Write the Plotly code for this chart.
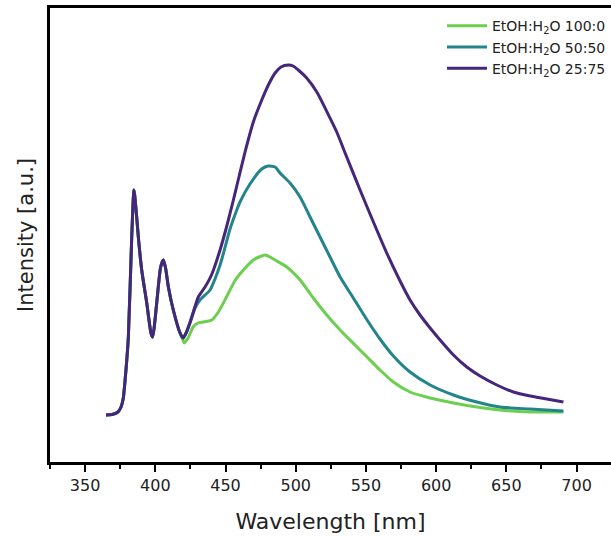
import plotly.graph_objects as go

# Shared excitation/Raman region (identical for all samples), wavelength in nm
wl_common = [364.9, 369.2, 373.4, 375.6, 377.2, 379.1, 380.8, 383.2, 384.8, 386.3,
             387.9, 390.3, 393.9, 396.9, 398.1, 399.4, 401.0, 403.8, 405.7, 407.3,
             409.3, 412.8, 417.6]
int_common = [47, 47.5, 50, 55, 64, 92, 125, 225, 272, 252,
              225, 192, 159, 129, 125, 137, 159, 195, 202, 194,
              175, 152, 129]

# EtOH:H2O 100:0
wl_100 = [419.9, 420.6, 423.3, 426.9, 430.4, 434.0, 440.2, 444.9, 449.6, 453.2,
          457.0, 462.7, 469.8, 473.9, 478.1, 481.7, 485.3, 493.6, 503.1, 512.5,
          520.9, 531.6, 542.2, 550.8, 560.0, 569.5, 581.4, 595.7, 612.3, 629.0,
          645.5, 666.9, 690.6]
int_100 = [121, 119, 124, 135, 139, 140, 142, 150, 162, 172,
           182, 192, 202, 205, 207, 205, 202, 195, 182, 164,
           149, 132, 117, 105, 92, 80, 70, 64, 59, 55,
           52, 50, 50]

# EtOH:H2O 50:50
wl_50 = [419.9, 421.9, 424.7, 428.3, 431.8, 439.0, 442.5, 446.1, 448.2, 453.2,
         458.0, 460.3, 467.4, 475.8, 480.3, 485.3, 488.8, 495.9, 503.1, 510.2,
         517.3, 524.4, 531.6, 541.0, 550.8, 560.0, 569.5, 581.4, 595.7, 612.3,
         629.0, 645.5, 666.9, 690.6]
int_50 = [124, 129, 140, 154, 162, 172, 183, 197, 207, 233,
          252, 260, 278, 293, 296, 295, 289, 279, 265, 245,
          225, 205, 185, 164, 142, 123, 106, 90, 77, 67,
          60, 55, 53, 51]

# EtOH:H2O 25:75
wl_25 = [419.9, 421.9, 424.7, 430.6, 435.4, 440.0, 446.1, 450.9, 455.6, 458.0,
         463.9, 469.8, 475.8, 480.5, 485.3, 489.5, 494.7, 498.1, 501.8, 507.8,
         515.0, 524.4, 529.2, 536.3, 545.8, 555.3, 564.8, 574.3, 581.4, 588.5,
         595.7, 602.8, 612.3, 621.8, 631.3, 643.2, 655.0, 666.9, 678.8, 690.6]
int_25 = [124, 129, 139, 165, 175, 187, 212, 236, 262, 276,
          310, 340, 362, 377, 389, 395, 397, 396, 392, 384,
          370, 344, 330, 305, 272, 240, 209, 181, 162, 147,
          134, 122, 107, 95, 86, 77, 70, 66, 63, 60]

series = [
    ("EtOH:H<sub>2</sub>O 100:0", wl_100, int_100, "#6ccf50"),
    ("EtOH:H<sub>2</sub>O 50:50", wl_50, int_50, "#23848c"),
    ("EtOH:H<sub>2</sub>O 25:75", wl_25, int_25, "#45267a"),
]

font_family = "'DejaVu Sans', sans-serif"
text_color = "#222222"

fig = go.Figure()
for name, wl, inten, color in series:
    fig.add_trace(go.Scatter(
        x=wl_common + wl,
        y=int_common + inten,
        mode="lines",
        name=name,
        line=dict(color=color, width=3, shape="spline", smoothing=0.6),
    ))

fig.update_layout(
    width=611,
    height=541,
    margin=dict(l=50, r=0, t=8, b=79),
    paper_bgcolor="white",
    plot_bgcolor="white",
    font=dict(family=font_family, color=text_color),
    showlegend=True,
    legend=dict(
        x=1.0, y=0.995, xanchor="right", yanchor="top",
        bgcolor="rgba(255,255,255,0)",
        font=dict(size=14, family=font_family, color=text_color),
        tracegroupgap=0,
        itemwidth=40,
    ),
    xaxis=dict(
        range=[325, 724.5],
        showline=True, linecolor="black", linewidth=2.5,
        mirror=True,
        showgrid=False, zeroline=False,
        ticks="outside", ticklen=7, tickwidth=2, tickcolor="black",
        tick0=350, dtick=50,
        tickfont=dict(size=16, family=font_family, color=text_color),
        minor=dict(ticks="outside", ticklen=4, tickwidth=2, tickcolor="black",
                   tick0=325, dtick=50),
        title=dict(text="Wavelength [nm]", standoff=20,
                   font=dict(size=22, family=font_family, color=text_color)),
    ),
    yaxis=dict(
        range=[0, 454],
        showline=True, linecolor="black", linewidth=2.5,
        showgrid=False, zeroline=False,
        showticklabels=False, ticks="",
        title=dict(text="Intensity [a.u.]", standoff=8,
                   font=dict(size=21, family=font_family, color=text_color)),
    ),
)

fig.write_html("out.html")
